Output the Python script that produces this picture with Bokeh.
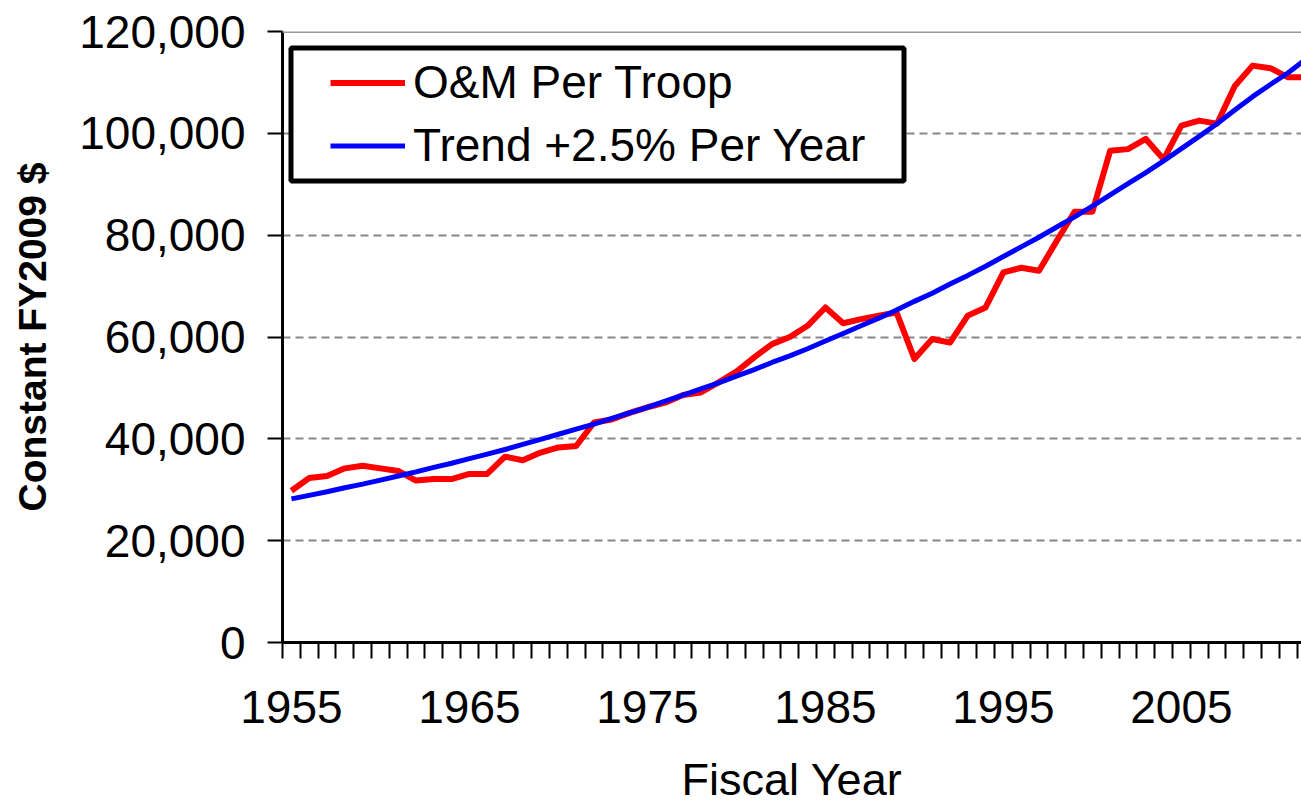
from bokeh.plotting import figure
from bokeh.models import (FixedTicker, NumeralTickFormatter, Range1d, Legend, LegendItem,
                          BoxAnnotation, Span)
from bokeh.embed import file_html
from bokeh.resources import INLINE

# ---------------- data ----------------
years = list(range(1955, 2013))
om_per_troop = [29800, 32300, 32700, 34200, 34700, 34200, 33700, 31800, 32100, 32100,
                33100, 33100, 36500, 35800, 37300, 38300, 38600, 43200, 43800, 45100,
                46200, 47100, 48600, 49100, 51100, 53200, 56000, 58600, 60000, 62200,
                65800, 62700, 63500, 64200, 64800, 55700, 59600, 58900, 64200, 65800,
                72700, 73600, 73000, 78900, 84600, 84600, 96600, 96900, 98900, 94900,
                101500, 102500, 101900, 109300, 113300, 112800, 111000, 111000]
trend = [28200, 28900, 29600, 30400, 31100, 31900, 32700, 33500, 34400, 35200,
         36100, 37000, 37900, 38900, 39900, 40900, 41900, 42900, 44000, 45100,
         46200, 47400, 48600, 49800, 51000, 52300, 53600, 55000, 56300, 57700,
         59200, 60700, 62200, 63700, 65300, 67000, 68600, 70400, 72100, 73900,
         75800, 77700, 79600, 81600, 83600, 85700, 87900, 90100, 92300, 94600,
         97000, 99400, 101900, 104600, 107200, 109600, 111900, 114600]
y_ticks = [0, 20000, 40000, 60000, 80000, 100000, 120000]
x_label_years = [1955, 1965, 1975, 1985, 1995, 2005]
legend_labels = ["O&M Per Troop", "Trend +2.5% Per Year"]
x_title = "Fiscal Year"
y_title = "Constant FY2009 $"

# ---------------- layout ----------------
W, H = 1301, 808
LEFT, TOP, BOTTOM = 282, 31, 166
FRAME_W = W - LEFT
FRAME_H = H - TOP - BOTTOM
PX_PER_YEAR = 17.8
x0 = years[0] - 0.5
x1 = x0 + FRAME_W / PX_PER_YEAR
FONT = "Liberation Sans"

p = figure(width=W, height=H, output_backend="svg", toolbar_location=None,
           x_range=Range1d(x0, x1), y_range=Range1d(0, 120000),
           min_border_left=LEFT, min_border_top=TOP, min_border_bottom=BOTTOM,
           min_border_right=0)
p.outline_line_color = None
p.background_fill_color = "white"
p.border_fill_color = "white"

# grid
p.xgrid.visible = False
p.ygrid.ticker = FixedTicker(ticks=y_ticks[1:-1])
p.ygrid.grid_line_color = "#888888"
p.ygrid.grid_line_width = 2
p.ygrid.grid_line_dash = "8 5"
p.add_layout(Span(location=y_ticks[-1], dimension="width", line_color="#999999", line_width=3))

# lines
r_om = p.line(years, om_per_troop, line_color="#FF0000", line_width=6, line_join="round")
r_tr = p.line(years, trend, line_color="#0000FF", line_width=5, line_join="round")

# x axis
xa = p.xaxis[0]
xa.ticker = FixedTicker(ticks=x_label_years,
                        minor_ticks=[y - 0.5 for y in years] + [years[-1] + 0.5])
xa.major_tick_out = 0
xa.major_tick_in = 0
xa.minor_tick_out = 16
xa.minor_tick_in = 0
xa.minor_tick_line_color = "black"
xa.minor_tick_line_width = 2
xa.axis_line_color = "black"
xa.axis_line_width = 3
xa.major_label_text_font = FONT
xa.major_label_text_font_size = "46px"
xa.major_label_text_color = "black"
xa.major_label_standoff = 32
xa.axis_label = x_title
xa.axis_label_text_font = FONT
xa.axis_label_text_font_size = "45px"
xa.axis_label_text_font_style = "normal"
xa.axis_label_text_color = "black"
xa.axis_label_standoff = 28

# y axis
ya = p.yaxis[0]
ya.ticker = FixedTicker(ticks=y_ticks)
ya.formatter = NumeralTickFormatter(format="0,0")
ya.major_tick_out = 15
ya.major_tick_in = 0
ya.major_tick_line_color = "black"
ya.major_tick_line_width = 2
ya.minor_tick_out = 0
ya.minor_tick_in = 0
ya.axis_line_color = "black"
ya.axis_line_width = 3
ya.major_label_text_font = FONT
ya.major_label_text_font_size = "46px"
ya.major_label_text_color = "black"
ya.major_label_standoff = 22
ya.axis_label = y_title
ya.axis_label_text_font = FONT
ya.axis_label_text_font_size = "39px"
ya.axis_label_text_font_style = "bold"
ya.axis_label_text_color = "black"
ya.axis_label_standoff = 22

# helpers: page pixel -> data units (for placing the legend box)
def xd(px):
    return x0 + (px - LEFT) / PX_PER_YEAR

def yd(py):
    return (TOP + FRAME_H - py) / FRAME_H * 120000

# legend box
box = BoxAnnotation(left=xd(290.5), right=xd(903.5), top=yd(47.5), bottom=yd(180.5),
                    fill_color="white", fill_alpha=1.0, line_color="black",
                    line_alpha=1.0, line_width=5)
p.add_layout(box)

legend = Legend(items=[LegendItem(label=legend_labels[0], renderers=[r_om]),
                       LegendItem(label=legend_labels[1], renderers=[r_tr])],
                location=(48, 470), padding=0, margin=0, spacing=9,
                glyph_width=75, glyph_height=53, label_height=53, label_standoff=8,
                label_text_font=FONT, label_text_font_size="46px",
                label_text_color="black",
                border_line_alpha=0, background_fill_alpha=0)
p.add_layout(legend)

open("out.html", "w").write(file_html(p, INLINE))
